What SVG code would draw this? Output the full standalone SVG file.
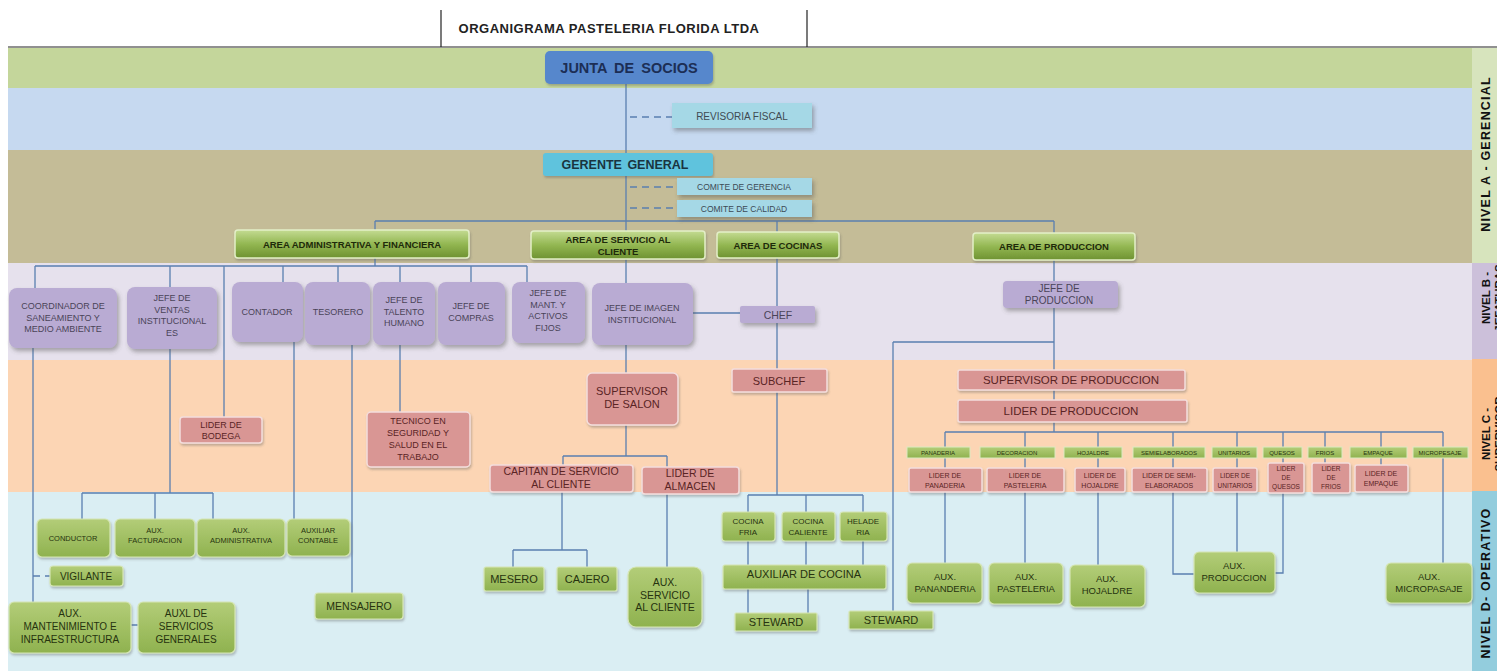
<svg xmlns="http://www.w3.org/2000/svg" width="1497" height="671" viewBox="0 0 1497 671">
<style>
text{font-family:"Liberation Sans",Arial,sans-serif;text-anchor:middle}
.c{fill:none;stroke:#5a7fb0;stroke-width:1.3}
.d{fill:none;stroke:#5a7fb0;stroke-width:1.3;stroke-dasharray:7 5}
.lav{fill:#b9abd3;filter:url(#sh)}
.lt{font-size:9px;fill:#4a4458}
.pk{fill:#d99694;stroke:#f4dedd;stroke-width:1.5;filter:url(#sh2)}
.pt{font-size:9px;fill:#5a2424}
.gn{fill:url(#gg);stroke:#d6e6b5;stroke-width:1.2;filter:url(#sh2)}
.gt{font-size:9px;fill:#26330f}
.ar{fill:url(#ag);stroke:#e3efc8;stroke-width:1.5;filter:url(#sh2)}
.at{font-size:9.5px;font-weight:bold;fill:#1e2a0a}
.cy{fill:#a5d8e6;filter:url(#sh)}
.ct{font-size:8.5px;fill:#3c4a55}
.sm{fill:url(#gg);stroke:#dbe9c0;stroke-width:1}
.st{font-size:6px;fill:#26330f}
.lv{font-size:12.5px;font-weight:bold;fill:#111;letter-spacing:1.2px}
.lv2{font-size:11.5px;font-weight:bold;fill:#111}
</style>
<defs>
<linearGradient id="gg" x1="0" y1="0" x2="0" y2="1"><stop offset="0" stop-color="#b3cd78"/><stop offset="1" stop-color="#8fb24f"/></linearGradient>
<linearGradient id="ag" x1="0" y1="0" x2="0" y2="1"><stop offset="0" stop-color="#c4db92"/><stop offset="0.5" stop-color="#93b752"/><stop offset="1" stop-color="#6e9231"/></linearGradient>
<filter id="sh" x="-20%" y="-20%" width="140%" height="160%"><feDropShadow dx="2" dy="3" stdDeviation="2" flood-color="#555" flood-opacity="0.45"/></filter>
<filter id="sh2" x="-20%" y="-20%" width="140%" height="160%"><feDropShadow dx="1" dy="2" stdDeviation="1" flood-color="#555" flood-opacity="0.35"/></filter>
</defs>
<rect x="0" y="0" width="1497" height="671" fill="#fff"/>
<g id="bands">
<rect x="8" y="48" width="1464" height="40" fill="#c4d69b"/>
<rect x="8" y="88" width="1464" height="62" fill="#c6d9f0"/>
<rect x="8" y="150" width="1464" height="113" fill="#c4bc97"/>
<rect x="8" y="263" width="1464" height="97" fill="#e6e1ed"/>
<rect x="8" y="360" width="1464" height="132" fill="#fcd5b4"/>
<rect x="8" y="492" width="1464" height="179" fill="#daeef3"/>
<rect x="1472" y="48" width="25" height="215" fill="#d7e4bd"/>
<rect x="1472" y="263" width="25" height="96" fill="#ccc0da"/>
<rect x="1472" y="359" width="25" height="132" fill="#fac08f"/>
<rect x="1472" y="491" width="25" height="180" fill="#93cddd"/>
<text class="lv" transform="translate(1490,154) rotate(-90)">NIVEL A - GERENCIAL</text>
<text class="lv2" transform="translate(1490,298) rotate(-90)">NIVEL B -<tspan x="0" y="13">JEFATURAS</tspan></text>
<text class="lv2" transform="translate(1490,434) rotate(-90)">NIVEL C -<tspan x="0" y="13">SUPERVISOR</tspan></text>
<text class="lv" transform="translate(1490,583) rotate(-90)">NIVEL D- OPERATIVO</text>
</g>
<g id="header">
<line x1="8" y1="47" x2="1497" y2="47" stroke="#222" stroke-width="1.2"/>
<line x1="441" y1="10" x2="441" y2="47" stroke="#222" stroke-width="1.2"/>
<line x1="807" y1="10" x2="807" y2="47" stroke="#222" stroke-width="1.2"/>
<text x="609" y="33" style="font-size:13px;font-weight:bold;fill:#222;letter-spacing:0.5px">ORGANIGRAMA PASTELERIA FLORIDA LTDA</text>
</g>
<g id="connectors">
<path class="c" d="M626,84V231M375,221H1054M375,221V266M777,221V306M1054,221V370"/>
<path class="d" d="M630,117H672M630,187H677M630,208H677M33,576H50"/>
<path class="c" d="M35,266H527M35,266V288M170,266V287M224,266V417M283,266V282M338,266V282M400,266V282M471,266V282M527,266V282M626,259V283"/>
<path class="c" d="M693,313H740M777,323V495M748,495H863M748,495V565M806,495V565M863,495V565M748,589V613M808,589V613"/>
<path class="c" d="M1054,390V432M893,342H1054M893,342V611M945,432H1443M945,432V563M1025,432V563M1098,432V565M1173,432V574H1194M1237,432V552M1283,432V573H1275M1325,432V463M1381,432V468M1443,432V563"/>
<path class="c" d="M33,348V602M131,625H138M170,349V493M82,493H213M82,493V519M155,493V519M213,493V519M294,342V519M352,345V593M400,345V412"/>
<path class="c" d="M626,345V456M563,456H667M563,456V492M667,456V567M562,492V550M513,550H587M513,550V567M587,550V567"/>
</g>
<g id="junta"><rect x="545" y="51" width="168" height="33" rx="5" fill="#5687cc" filter="url(#sh2)"/><text x="629" y="73" style="font-size:14.5px;font-weight:bold;fill:#1c2e55;word-spacing:3px">JUNTA DE SOCIOS</text></g>
<g id="revisoria"><rect x="672" y="103" width="140" height="25" class="cy"/><text x="742" y="119.5" style="font-size:10px;fill:#404a52">REVISORIA  FISCAL</text></g>
<g id="gerente"><rect x="543" y="153" width="170" height="23" rx="3" fill="#5ec3dd" filter="url(#sh2)"/><text x="625" y="169" style="font-size:12.5px;font-weight:bold;fill:#1a3440;word-spacing:2px">GERENTE GENERAL</text></g>
<g id="comite-gerencia"><rect x="677" y="178" width="135" height="17" class="cy"/><text x="744" y="190" class="ct">COMITE DE GERENCIA</text></g>
<g id="comite-calidad"><rect x="677" y="200" width="135" height="17" class="cy"/><text x="744" y="212" class="ct">COMITE DE CALIDAD</text></g>
<g id="area-admin"><rect x="235" y="230" width="234" height="28" rx="3" class="ar"/><text x="352" y="247.5" class="at">AREA ADMINISTRATIVA Y FINANCIERA</text></g>
<g id="area-servicio"><rect x="531" y="231" width="174" height="28" rx="3" class="ar"/><text x="618" y="243" class="at">AREA DE SERVICIO AL<tspan x="618" y="255">CLIENTE</tspan></text></g>
<g id="area-cocinas"><rect x="717" y="232" width="122" height="26" rx="3" class="ar"/><text x="778" y="248.5" class="at">AREA DE COCINAS</text></g>
<g id="area-produccion"><rect x="973" y="233" width="162" height="27" rx="3" class="ar"/><text x="1054" y="250" class="at">AREA DE PRODUCCION</text></g>
<g id="coordinador"><rect x="9" y="288" width="108" height="60" rx="8" class="lav"/><text x="63" y="309" class="lt">COORDINADOR DE<tspan x="63" y="320.5">SANEAMIENTO Y</tspan><tspan x="63" y="332">MEDIO AMBIENTE</tspan></text></g>
<g id="jefe-ventas"><rect x="127" y="287" width="90" height="62" rx="8" class="lav"/><text x="172" y="301" class="lt">JEFE DE<tspan x="172" y="312.5">VENTAS</tspan><tspan x="172" y="324">INSTITUCIONAL</tspan><tspan x="172" y="335.5">ES</tspan></text></g>
<g id="contador"><rect x="232" y="282" width="71" height="60" rx="8" class="lav"/><text x="267" y="315" class="lt">CONTADOR</text></g>
<g id="tesorero"><rect x="305" y="282" width="65" height="63" rx="8" class="lav"/><text x="338" y="315" class="lt">TESORERO</text></g>
<g id="jefe-talento"><rect x="373" y="282" width="62" height="63" rx="8" class="lav"/><text x="404" y="303" class="lt">JEFE DE<tspan x="404" y="314.5">TALENTO</tspan><tspan x="404" y="326">HUMANO</tspan></text></g>
<g id="jefe-compras"><rect x="438" y="282" width="67" height="63" rx="8" class="lav"/><text x="471" y="309" class="lt">JEFE DE<tspan x="471" y="320.5">COMPRAS</tspan></text></g>
<g id="jefe-mant"><rect x="512" y="282" width="73" height="61" rx="8" class="lav"/><text x="548" y="296" class="lt">JEFE DE<tspan x="548" y="307.5">MANT. Y</tspan><tspan x="548" y="319">ACTIVOS</tspan><tspan x="548" y="330.5">FIJOS</tspan></text></g>
<g id="jefe-imagen"><rect x="592" y="283" width="101" height="62" rx="8" class="lav"/><text x="642" y="311" class="lt">JEFE DE IMAGEN<tspan x="642" y="322.5">INSTITUCIONAL</tspan></text></g>
<g id="chef"><rect x="740" y="306" width="75" height="17" rx="2" class="lav"/><text x="778" y="318.5" style="font-size:10.5px;fill:#4a4458">CHEF</text></g>
<g id="jefe-produccion"><rect x="1003" y="281" width="115" height="27" rx="4" class="lav"/><text x="1059" y="292" style="font-size:10px;fill:#4a4458">JEFE DE<tspan x="1059" y="304">PRODUCCION</tspan></text></g>
<g id="lider-bodega"><rect x="180" y="417" width="82" height="26" rx="3" class="pk"/><text x="221" y="428" class="pt">LIDER DE<tspan x="221" y="439">BODEGA</tspan></text></g>
<g id="tecnico"><rect x="367" y="412" width="103" height="55" rx="4" class="pk"/><text x="418" y="424" class="pt">TECNICO EN<tspan x="418" y="436">SEGURIDAD Y</tspan><tspan x="418" y="448">SALUD EN EL</tspan><tspan x="418" y="460">TRABAJO</tspan></text></g>
<g id="supervisor-salon"><rect x="587" y="373" width="91" height="52" rx="5" class="pk"/><text x="632" y="395" style="font-size:11px;fill:#5a2424">SUPERVISOR<tspan x="632" y="408">DE SALON</tspan></text></g>
<g id="subchef"><rect x="732" y="369" width="95" height="23" rx="2" class="pk"/><text x="779" y="384.5" style="font-size:11px;fill:#5a2424">SUBCHEF</text></g>
<g id="supervisor-produccion"><rect x="958" y="370" width="227" height="20" rx="2" class="pk"/><text x="1071" y="384" style="font-size:11.5px;fill:#5a2424">SUPERVISOR  DE PRODUCCION</text></g>
<g id="lider-produccion"><rect x="958" y="400" width="229" height="22" rx="2" class="pk"/><text x="1071" y="415" style="font-size:11.5px;fill:#5a2424">LIDER DE PRODUCCION</text></g>
<g id="cat-panaderia"><rect x="907" y="447" width="63" height="11" class="sm"/><text x="938" y="455" class="st">PANADERIA</text></g>
<g id="cat-decoracion"><rect x="980" y="447" width="75" height="11" class="sm"/><text x="1017" y="455" class="st">DECORACION</text></g>
<g id="cat-hojaldre"><rect x="1064" y="447" width="58" height="11" class="sm"/><text x="1093" y="455" class="st">HOJALDRE</text></g>
<g id="cat-semielaborados"><rect x="1133" y="447" width="72" height="11" class="sm"/><text x="1169" y="455" class="st">SEMIELABORADOS</text></g>
<g id="cat-unitarios"><rect x="1212" y="447" width="45" height="11" class="sm"/><text x="1234" y="455" class="st">UNITARIOS</text></g>
<g id="cat-quesos"><rect x="1263" y="447" width="39" height="11" class="sm"/><text x="1282" y="455" class="st">QUESOS</text></g>
<g id="cat-frios"><rect x="1308" y="447" width="34" height="11" class="sm"/><text x="1325" y="455" class="st">FRIOS</text></g>
<g id="cat-empaque"><rect x="1350" y="447" width="57" height="11" class="sm"/><text x="1378" y="455" class="st">EMPAQUE</text></g>
<g id="cat-micropesaje"><rect x="1413" y="447" width="55" height="11" class="sm"/><text x="1440" y="455" class="st">MICROPESAJE</text></g>
<g id="lider-panaderia"><rect x="909" y="468" width="73" height="24" rx="2" class="pk"/><text x="945" y="478" style="font-size:7px;fill:#5a2424">LIDER DE<tspan x="945" y="488">PANADERIA</tspan></text></g>
<g id="lider-pasteleria"><rect x="987" y="468" width="77" height="24" rx="2" class="pk"/><text x="1025" y="478" style="font-size:7px;fill:#5a2424">LIDER DE<tspan x="1025" y="488">PASTELERIA</tspan></text></g>
<g id="lider-hojaldre"><rect x="1075" y="468" width="50" height="24" rx="2" class="pk"/><text x="1100" y="478" style="font-size:7px;fill:#5a2424">LIDER DE<tspan x="1100" y="488">HOJALDRE</tspan></text></g>
<g id="lider-semielaborados"><rect x="1132" y="468" width="75" height="24" rx="2" class="pk"/><text x="1169" y="478" style="font-size:7px;fill:#5a2424">LIDER DE SEMI-<tspan x="1169" y="488">ELABORADOS</tspan></text></g>
<g id="lider-unitarios"><rect x="1213" y="468" width="44" height="24" rx="2" class="pk"/><text x="1235" y="478" style="font-size:6.5px;fill:#5a2424">LIDER DE<tspan x="1235" y="488">UNITARIOS</tspan></text></g>
<g id="lider-quesos"><rect x="1268" y="463" width="36" height="30" rx="2" class="pk"/><text x="1286" y="471" style="font-size:6.5px;fill:#5a2424">LIDER<tspan x="1286" y="480">DE</tspan><tspan x="1286" y="489">QUESOS</tspan></text></g>
<g id="lider-frios"><rect x="1312" y="463" width="38" height="30" rx="2" class="pk"/><text x="1331" y="471" style="font-size:6.5px;fill:#5a2424">LIDER<tspan x="1331" y="480">DE</tspan><tspan x="1331" y="489">FRIOS</tspan></text></g>
<g id="lider-empaque"><rect x="1355" y="465" width="53" height="27" rx="2" class="pk"/><text x="1381" y="476" style="font-size:7px;fill:#5a2424">LIDER DE<tspan x="1381" y="486">EMPAQUE</tspan></text></g>
<g id="capitan"><rect x="490" y="465" width="143" height="27" rx="3" class="pk"/><text x="561" y="475" style="font-size:10.5px;fill:#5a2424">CAPITAN DE SERVICIO<tspan x="561" y="488">AL CLIENTE</tspan></text></g>
<g id="lider-almacen"><rect x="642" y="467" width="97" height="27" rx="3" class="pk"/><text x="690" y="477" style="font-size:10.5px;fill:#5a2424">LIDER DE<tspan x="690" y="490">ALMACEN</tspan></text></g>
<g id="conductor"><rect x="37" y="519" width="73" height="38" rx="5" class="gn"/><text x="73" y="541" style="font-size:7.5px;fill:#26330f">CONDUCTOR</text></g>
<g id="aux-facturacion"><rect x="115" y="519" width="80" height="38" rx="5" class="gn"/><text x="155" y="533" style="font-size:7.5px;fill:#26330f">AUX.<tspan x="155" y="543">FACTURACION</tspan></text></g>
<g id="aux-administrativa"><rect x="197" y="519" width="88" height="38" rx="5" class="gn"/><text x="241" y="533" style="font-size:7.5px;fill:#26330f">AUX.<tspan x="241" y="543">ADMINISTRATIVA</tspan></text></g>
<g id="auxiliar-contable"><rect x="287" y="519" width="63" height="37" rx="5" class="gn"/><text x="318" y="533" style="font-size:7.5px;fill:#26330f">AUXILIAR<tspan x="318" y="543">CONTABLE</tspan></text></g>
<g id="vigilante"><rect x="50" y="566" width="73" height="20" rx="3" class="gn"/><text x="86" y="580" style="font-size:10px;fill:#26330f">VIGILANTE</text></g>
<g id="aux-mantenimiento"><rect x="9" y="602" width="122" height="51" rx="5" class="gn"/><text x="70" y="617" style="font-size:10px;fill:#26330f">AUX.<tspan x="70" y="630">MANTENIMIENTO E</tspan><tspan x="70" y="643">INFRAESTRUCTURA</tspan></text></g>
<g id="auxl-servicios"><rect x="138" y="602" width="97" height="51" rx="5" class="gn"/><text x="186" y="617" style="font-size:10px;fill:#26330f">AUXL DE<tspan x="186" y="630">SERVICIOS</tspan><tspan x="186" y="643">GENERALES</tspan></text></g>
<g id="mensajero"><rect x="315" y="593" width="88" height="26" rx="3" class="gn"/><text x="359" y="610" style="font-size:10.5px;fill:#26330f">MENSAJERO</text></g>
<g id="mesero"><rect x="484" y="567" width="60" height="24" rx="2" class="gn"/><text x="514" y="583" style="font-size:11px;fill:#26330f">MESERO</text></g>
<g id="cajero"><rect x="557" y="567" width="60" height="24" rx="2" class="gn"/><text x="587" y="583" style="font-size:11px;fill:#26330f">CAJERO</text></g>
<g id="aux-servicio-cliente"><rect x="628" y="567" width="74" height="60" rx="8" class="gn"/><text x="665" y="586" style="font-size:10.5px;fill:#26330f">AUX.<tspan x="665" y="598.5">SERVICIO</tspan><tspan x="665" y="611">AL CLIENTE</tspan></text></g>
<g id="cocina-fria"><rect x="722" y="512" width="53" height="29" rx="3" class="gn"/><text x="748" y="524" style="font-size:8px;fill:#26330f">COCINA<tspan x="748" y="535">FRIA</tspan></text></g>
<g id="cocina-caliente"><rect x="782" y="512" width="53" height="29" rx="3" class="gn"/><text x="808" y="524" style="font-size:8px;fill:#26330f">COCINA<tspan x="808" y="535">CALIENTE</tspan></text></g>
<g id="heladeria"><rect x="840" y="512" width="47" height="29" rx="3" class="gn"/><text x="863" y="524" style="font-size:8px;fill:#26330f">HELADE<tspan x="863" y="535">RIA</tspan></text></g>
<g id="auxiliar-cocina"><rect x="723" y="565" width="163" height="24" rx="2" class="gn"/><text x="804" y="578" style="font-size:11px;fill:#26330f">AUXILIAR DE COCINA</text></g>
<g id="steward-1"><rect x="735" y="613" width="82" height="18" rx="1" class="gn"/><text x="776" y="626" style="font-size:11px;fill:#26330f">STEWARD</text></g>
<g id="steward-2"><rect x="849" y="611" width="84" height="18" rx="1" class="gn"/><text x="891" y="624" style="font-size:11px;fill:#26330f">STEWARD</text></g>
<g id="aux-panaderia"><rect x="907" y="563" width="75" height="40" rx="5" class="gn"/><text x="945" y="580" style="font-size:9.5px;fill:#26330f">AUX.<tspan x="945" y="592">PANANDERIA</tspan></text></g>
<g id="aux-pasteleria"><rect x="989" y="563" width="74" height="41" rx="5" class="gn"/><text x="1026" y="580" style="font-size:9.5px;fill:#26330f">AUX.<tspan x="1026" y="592">PASTELERIA</tspan></text></g>
<g id="aux-hojaldre"><rect x="1070" y="565" width="75" height="42" rx="5" class="gn"/><text x="1107" y="582" style="font-size:9.5px;fill:#26330f">AUX.<tspan x="1107" y="594">HOJALDRE</tspan></text></g>
<g id="aux-produccion"><rect x="1194" y="552" width="81" height="41" rx="5" class="gn"/><text x="1234" y="569" style="font-size:9.5px;fill:#26330f">AUX.<tspan x="1234" y="581">PRODUCCION</tspan></text></g>
<g id="aux-micropasaje"><rect x="1386" y="563" width="86" height="40" rx="5" class="gn"/><text x="1429" y="580" style="font-size:9.5px;fill:#26330f">AUX.<tspan x="1429" y="592">MICROPASAJE</tspan></text></g>
</svg>
